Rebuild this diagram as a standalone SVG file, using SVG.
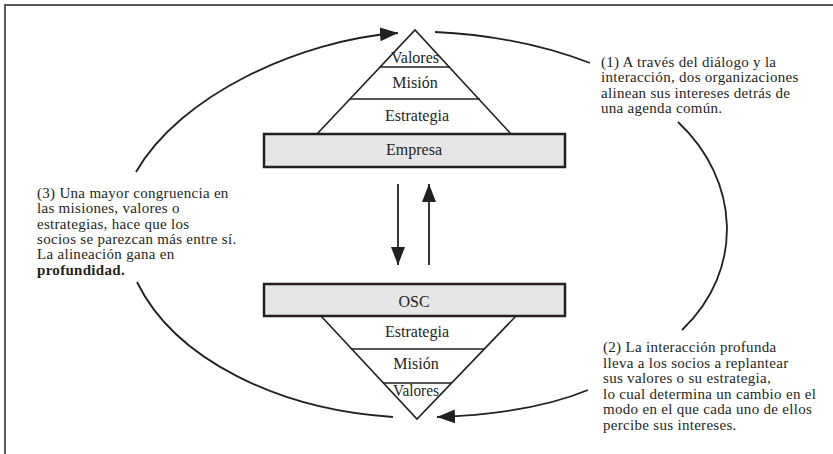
<svg xmlns="http://www.w3.org/2000/svg" width="833" height="454" viewBox="0 0 833 454">
<style>
  text { font-family: "Liberation Serif", "Times New Roman", serif; font-size: 16px; fill: #231f20; }
  .lbl { text-anchor: middle; }
  .note { font-size: 15px; letter-spacing: 0.3px; }
  .box { fill: #e6e6e6; stroke: #231f20; stroke-width: 2.5; }
  .tri { fill: none; stroke: #231f20; stroke-width: 1.6; stroke-linejoin: miter; }
  .con { fill: none; stroke: #231f20; stroke-width: 1.8; }
  .frame { fill: none; stroke: #5a5a5a; stroke-width: 2; }
</style>
<defs>
  <marker id="ah" markerUnits="userSpaceOnUse" markerWidth="20" markerHeight="16" refX="18" refY="7" orient="auto">
    <path d="M0,0 L18,7 L0,14 Z" fill="#231f20"/>
  </marker>
</defs>
<rect width="833" height="454" fill="#ffffff"/>
<path class="frame" d="M5,454 L5,5 L833,5"/>

<g id="empresa">
  <path class="tri" d="M317,134 L415,30 L511,134"/>
  <line class="tri" x1="380" y1="67" x2="450" y2="67"/>
  <line class="tri" x1="350" y1="99" x2="480" y2="99"/>
  <text class="lbl" x="415" y="63" textLength="48" lengthAdjust="spacingAndGlyphs">Valores</text>
  <text class="lbl" x="415" y="88">Misión</text>
  <text class="lbl" x="417" y="121">Estrategia</text>
  <rect class="box" x="264" y="134" width="301" height="33"/>
  <text class="lbl" x="414" y="155">Empresa</text>
</g>

<g id="osc">
  <rect class="box" x="264" y="284" width="301" height="32"/>
  <text class="lbl" x="414" y="307">OSC</text>
  <path class="tri" d="M321,316 L417,419 L516,316"/>
  <line class="tri" x1="351" y1="349" x2="484" y2="349"/>
  <line class="tri" x1="383" y1="383" x2="452" y2="383"/>
  <text class="lbl" x="417" y="337">Estrategia</text>
  <text class="lbl" x="416" y="369">Misión</text>
  <text class="lbl" x="416" y="396" textLength="46" lengthAdjust="spacingAndGlyphs">Valores</text>
</g>

<g id="connectors">
  <line class="con" x1="398" y1="184" x2="398" y2="265" stroke-width="2.2" marker-end="url(#ah)"/>
  <line class="con" x1="429" y1="265" x2="429" y2="184" stroke-width="2.2" marker-end="url(#ah)"/>
  <path class="con" d="M136,172 C180,95 300,40 398,33" marker-end="url(#ah)"/>
  <path class="con" d="M435,32 Q520,36 590,63"/>
  <path class="con" d="M678,122 C740,180 745,270 682,330"/>
  <path class="con" d="M588,390 Q530,414 437,417" marker-end="url(#ah)"/>
  <path class="con" d="M137,282 C175,360 280,410 393,417"/>
</g>

<g id="note1" class="note">
  <text class="note" x="601" y="67">(1) A través del diálogo y la</text>
  <text class="note" x="601" y="82.3">interacción, dos organizaciones</text>
  <text class="note" x="601" y="97.6">alinean sus intereses detrás de</text>
  <text class="note" x="601" y="112.9">una agenda común.</text>
</g>

<g id="note2">
  <text class="note" x="603" y="352">(2) La interacción profunda</text>
  <text class="note" x="603" y="367.6">lleva a los socios a replantear</text>
  <text class="note" x="603" y="383.2">sus valores o su estrategia,</text>
  <text class="note" x="603" y="398.8">lo cual determina un cambio en el</text>
  <text class="note" x="603" y="414.4">modo en el que cada uno de ellos</text>
  <text class="note" x="603" y="430">percibe sus intereses.</text>
</g>

<g id="note3">
  <text class="note" x="37" y="198">(3) Una mayor congruencia en</text>
  <text class="note" x="37" y="213.3">las misiones, valores o</text>
  <text class="note" x="37" y="228.6">estrategias, hace que los</text>
  <text class="note" x="37" y="243.9">socios se parezcan más entre sí.</text>
  <text class="note" x="37" y="259.2">La alineación gana en</text>
  <text class="note" x="37" y="274.5" font-weight="bold">profundidad.</text>
</g>
</svg>
